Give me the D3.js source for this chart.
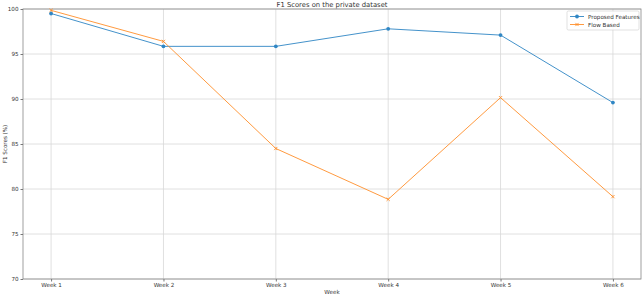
<!DOCTYPE html>
<meta charset="utf-8">
<script src="https://d3js.org/d3.v7.min.js"></script>
<style type="text/css">
body { margin: 0; background: #fff; }
text { font-family: "DejaVu Sans", sans-serif; fill: #333; }
.grid line { stroke: #d8d8d8; stroke-width: 0.8; }
.axis path, .axis line { stroke: #777; }
</style>
<body>
<script>

var weeks = ["Week 1", "Week 2", "Week 3", "Week 4", "Week 5", "Week 6"];
var proposed = [99.5, 95.85, 95.85, 97.8, 97.1, 89.6];
var flowBased = [99.85, 96.4, 84.5, 78.85, 90.15, 79.15];
var yTicks = [70, 75, 80, 85, 90, 95, 100];

var series = [
  {name: "Proposed Features", values: proposed, color: "#2f86c4", marker: "circle"},
  {name: "Flow Based", values: flowBased, color: "#ff8f2a", marker: "x"}
];

var W = 642, H = 296;
var margin = {top: 9, right: 1, bottom: 17, left: 23}
  , width = W - margin.left - margin.right
  , height = H - margin.top - margin.bottom;

var svg = d3.select("body").append("svg")
    .attr("width", W)
    .attr("height", H);
var g = svg.append("g")
    .attr("transform", "translate(" + margin.left + "," + margin.top + ")");

// matplotlib-style 5% padding on x
var pad = 0.05 * (weeks.length - 1);
var xScale = d3.scaleLinear().domain([-pad, weeks.length - 1 + pad]).range([0, width]);
var yScale = d3.scaleLinear().domain([70, 100]).range([height, 0]);

// grid
g.append("g").attr("class", "grid")
  .selectAll("line").data(weeks).enter().append("line")
    .attr("x1", function(d, i) { return xScale(i); })
    .attr("x2", function(d, i) { return xScale(i); })
    .attr("y1", 0).attr("y2", height);
g.append("g").attr("class", "grid")
  .selectAll("line").data(yTicks).enter().append("line")
    .attr("x1", 0).attr("x2", width)
    .attr("y1", function(d) { return yScale(d); })
    .attr("y2", function(d) { return yScale(d); });

// frame
g.append("rect").attr("width", width).attr("height", height)
    .attr("fill", "none").attr("stroke", "#888").attr("stroke-width", 0.8);

// axes
var xAxis = d3.axisBottom(xScale).tickValues(d3.range(weeks.length))
    .tickFormat(function(i) { return weeks[i]; }).tickSize(2.5).tickPadding(2);
var yAxis = d3.axisLeft(yScale).tickValues(yTicks).tickSize(2.5).tickPadding(2);
g.append("g").attr("class", "x axis").attr("transform", "translate(0," + height + ")").call(xAxis)
  .call(function(s) { s.select(".domain").remove(); })
  .selectAll("text").style("font-size", "5.6px");
g.append("g").attr("class", "y axis").call(yAxis)
  .call(function(s) { s.select(".domain").remove(); })
  .selectAll("text").style("font-size", "5.6px");

// lines
var line = d3.line()
    .x(function(d, i) { return xScale(i); })
    .y(function(d) { return yScale(d); });

series.forEach(function(s) {
  g.append("path").datum(s.values)
    .attr("fill", "none").attr("stroke", s.color).attr("stroke-width", 0.9)
    .attr("d", line);
  var pts = g.append("g").selectAll("g").data(s.values).enter().append("g")
    .attr("transform", function(d, i) { return "translate(" + xScale(i) + "," + yScale(d) + ")"; });
  if (s.marker == "circle") {
    pts.append("circle").attr("r", 1.9).attr("fill", s.color);
  } else {
    pts.append("path").attr("d", "M-1.6,-1.6L1.6,1.6M-1.6,1.6L1.6,-1.6")
      .attr("stroke", s.color).attr("stroke-width", 0.9);
  }
});

// title and labels
svg.append("text")
    .attr("x", margin.left + width / 2)
    .attr("y", 6.5)
    .style("text-anchor", "middle")
    .style("font-size", "6.8px")
    .text("F1 Scores on the private dataset");
svg.append("text")
    .attr("x", margin.left + width / 2)
    .attr("y", 294)
    .style("text-anchor", "middle")
    .style("font-size", "5.6px")
    .text("Week");
svg.append("text")
    .attr("transform", "translate(7," + (margin.top + height / 2) + ") rotate(-90)")
    .style("text-anchor", "middle")
    .style("font-size", "5.6px")
    .text("F1 Scores (%)");

// legend
var lg = svg.append("g").attr("transform", "translate(567,11)");
lg.append("rect").attr("width", 72).attr("height", 19).attr("rx", 1.5)
    .attr("fill", "#fff").attr("fill-opacity", 0.8).attr("stroke", "#ccc").attr("stroke-width", 0.6);
series.forEach(function(s, i) {
  var row = lg.append("g").attr("transform", "translate(3," + (5.5 + i * 8) + ")");
  row.append("line").attr("x1", 0).attr("x2", 14).attr("stroke", s.color).attr("stroke-width", 0.9);
  if (s.marker == "circle") {
    row.append("circle").attr("cx", 7).attr("r", 1.9).attr("fill", s.color);
  } else {
    row.append("path").attr("d", "M5.4,-1.6L8.6,1.6M5.4,1.6L8.6,-1.6").attr("stroke", s.color).attr("stroke-width", 0.9);
  }
  row.append("text").attr("x", 18).attr("y", 2).style("font-size", "5.6px").text(s.name);
});

</script>
</body>
</html>
